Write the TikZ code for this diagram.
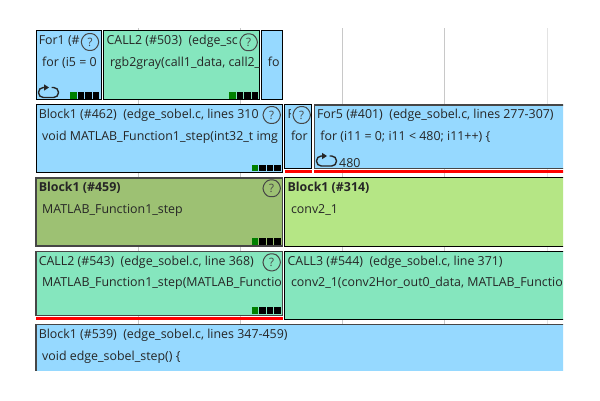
\documentclass[tikz,border=0pt]{standalone}
\usepackage{fontspec}
\setmainfont{Open Sans}
\usetikzlibrary{shapes.geometric}
\definecolor{blockblue}{RGB}{150,217,255}
\definecolor{callgreen}{RGB}{133,230,190}
\definecolor{pickolive}{RGB}{157,193,115}
\definecolor{picklime}{RGB}{181,230,133}
\definecolor{edgegray}{RGB}{70,70,70}
\definecolor{gridgray}{RGB}{200,200,200}
\tikzset{
  treebox/.style={draw=black,line width=1pt,anchor=north west,inner sep=0pt,outer sep=0pt},
  heavybox/.style={treebox,draw=edgegray,line width=1.4pt},
  headtext/.style={anchor=base west,inner sep=0pt,font=\fontsize{12.4}{14}\selectfont,text=black!85},
  bodytext/.style={headtext},
  helpmark/.style={draw=edgegray,line width=1pt,shape=regular polygon,regular polygon sides=6,rounded corners=3.5pt,minimum size=19.5pt,inner sep=0pt,font=\fontsize{11.5}{11.5}\selectfont,text=edgegray},
  minisq/.style={inner sep=0pt,minimum size=6.5pt,fill=black},
  redbar/.style={fill=red,inner sep=0pt,anchor=north west,minimum height=3pt},
  loopmark/.style={draw=black!85,line width=1.4pt,rounded corners=4.8pt}
}
% texts of one box, cut off at its edge
\newcommand{\boxtext}[3]{
  \begin{scope}
    \clip (#1.south west) rectangle (#1.north east);
    \node[headtext] (#1head) at ([shift={(2.6,14)}]#1.north west) {#2};
    \node[bodytext] (#1body) at ([shift={(6,35.5)}]#1.north west) {#3};
  \end{scope}
}
% green and black squares of a box
\newcommand{\activity}[3]{
  \node[minisq,fill=green!50!black] (#1a) at (#2,#3) {};
  \foreach \i in {1,2,3}
    \node[minisq] (#1b\i) at (#2+7.5*\i,#3) {};
}
\newcommand{\loopicon}[2]{
  \draw[loopmark] (#1+13,#2) -- (#1+20,#2) -- (#1+20,#2+10) -- (#1,#2+10) -- (#1,#2) -- (#1+6,#2);
  \fill[black!85] (#1+5.5,#2-3.2) -- (#1+10.5,#2) -- (#1+5.5,#2+3.2) -- cycle;
}
\begin{document}
\begin{tikzpicture}[x=1pt,y=-1pt]
\useasboundingbox (0,0) rectangle (600,400);
\fill[white] (0,0) rectangle (600,400);
\foreach \x in {138,240,342,444}
  \draw[gridgray,line width=.8pt] (\x,28) -- (\x,324);
\draw[gridgray!50,line width=.8pt] (547,28) -- (547,324);
\begin{scope}
\clip (30,25) rectangle (563,370);
% top row
\node[treebox,fill=blockblue,minimum width=65pt,minimum height=68.7pt] (for1) at (36,30.8) {};
\node[treebox,fill=callgreen,minimum width=155.7pt,minimum height=68.7pt] (call503) at (103.8,30.8) {};
\node[treebox,fill=blockblue,minimum width=20.8pt,minimum height=68.7pt] (forx) at (261.7,30.8) {};
\boxtext{for1}{For1 (\#}{for (i5 = 0}
\boxtext{call503}{CALL2 (\#503)\ \ (edge\_sc}{rgb2gray(call1\_data, call2\_}
\boxtext{forx}{}{fo}
% second row
\node[treebox,fill=blockblue,minimum width=246.3pt,minimum height=67.4pt] (block462) at (36,104.8) {};
\node[treebox,fill=blockblue,minimum width=26.4pt,minimum height=63.7pt] (forf) at (284.8,104.8) {};
\node[heavybox,fill=blockblue,minimum width=270pt,minimum height=63.7pt] (for401) at (314.2,104.8) {};
\node[redbar,minimum width=27.4pt] (redf) at (284.3,170) {};
\node[redbar,minimum width=260pt] (red401) at (313.7,170) {};
\boxtext{block462}{Block1 (\#462)\ \ (edge\_sobel.c, lines 310}{void MATLAB\_Function1\_step(int32\_t img}
\boxtext{forf}{}{for}
\begin{scope}
  \clip (285,105) rectangle (290,125);
  \node[headtext] (forfcut) at ([shift={(2.6,14)}]forf.north west) {F};
\end{scope}
\boxtext{for401}{For5 (\#401)\ \ (edge\_sobel.c, lines 277-307)}{for (i11 = 0; i11 < 480; i11++) \{}
% third row
\node[heavybox,fill=pickolive,minimum width=246.3pt,minimum height=68.3pt] (block459) at (36,177.8) {};
\node[treebox,fill=picklime,minimum width=290pt,minimum height=68.3pt] (block314) at (284.8,177.8) {};
\boxtext{block459}{\textbf{Block1 (\#459)}}{MATLAB\_Function1\_step}
\boxtext{block314}{\textbf{Block1 (\#314)}}{conv2\_1}
% fourth row
\node[heavybox,fill=callgreen,minimum width=246.3pt,minimum height=64pt] (call543) at (36,251.2) {};
\node[treebox,fill=callgreen,minimum width=290pt,minimum height=68pt] (call544) at (284.8,251.2) {};
\node[redbar,minimum width=247.3pt] (red543) at (35.5,316.9) {};
\boxtext{call543}{CALL2 (\#543)\ \ (edge\_sobel.c, line 368)}{MATLAB\_Function1\_step(MATLAB\_Functio}
\boxtext{call544}{CALL3 (\#544)\ \ (edge\_sobel.c, line 371)}{conv2\_1(conv2Hor\_out0\_data, MATLAB\_Functio}
% bottom row
\node[heavybox,fill=blockblue,minimum width=560pt,minimum height=70pt] (block539) at (36,324.5) {};
\boxtext{block539}{Block1 (\#539)\ \ (edge\_sobel.c, lines 347-459)}{void edge\_sobel\_step() \{}
\end{scope}
% help marks
\node[helpmark,fill=blockblue] (help1) at (90,42) {?};
\node[helpmark,fill=callgreen] (help2) at (248.7,42.3) {?};
\node[helpmark,fill=blockblue] (help3) at (271.7,115) {?};
\node[helpmark,fill=blockblue] (help4) at (301.7,115) {?};
\node[helpmark,fill=pickolive] (help5) at (271.7,188.3) {?};
\node[helpmark,fill=callgreen] (help6) at (271.7,262.3) {?};
% activity squares
\activity{acta}{73.3}{95.5}
\activity{actb}{232.3}{95.5}
\activity{actc}{255}{167.8}
\activity{actd}{255}{241.6}
\activity{acte}{255}{310.3}
% loop marks
\loopicon{38.5}{87.5}
\loopicon{316.5}{156}
\node[headtext] (count401) at (339,167) {480};
\end{tikzpicture}
\end{document}
